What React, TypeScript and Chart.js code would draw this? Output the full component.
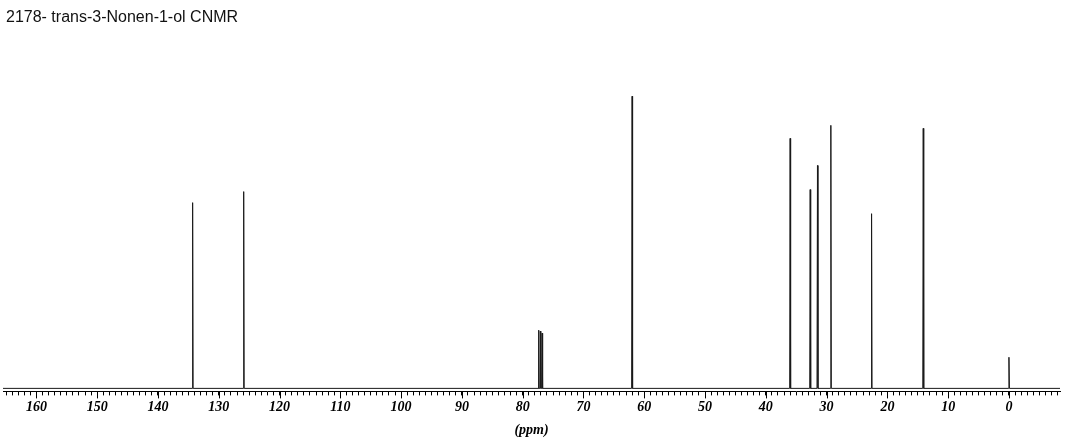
import React, { useEffect, useRef } from "react";
import { Chart, registerables } from "chart.js";

Chart.register(...registerables);

const TITLE = "2178- trans-3-Nonen-1-ol CNMR";
const AXIS_TITLE = "(ppm)";
const X_MIN = -8.4;
const X_MAX = 165.5;
// peak positions (ppm) and heights (relative intensity)
const peakPpm = [134.3, 125.9, 77.4, 77.1, 76.8, 62.0, 36.0, 32.7, 31.5, 29.3, 22.6, 14.1, 0.0];
const peakHeight = [185, 196, 58, 57, 55, 291, 249, 198, 222, 262, 174, 259, 31];
const majorTicks = [160, 150, 140, 130, 120, 110, 100, 90, 80, 70, 60, 50, 40, 30, 20, 10, 0];

function buildPoints() {
  const pts: { x: number; y: number }[] = [{ x: X_MAX, y: 0 }];
  const order = peakPpm.map((p, i) => i).sort((a, b) => peakPpm[b] - peakPpm[a]);
  for (const i of order) {
    pts.push({ x: peakPpm[i] + 0.08, y: 0 });
    pts.push({ x: peakPpm[i], y: peakHeight[i] });
    pts.push({ x: peakPpm[i] - 0.08, y: 0 });
  }
  pts.push({ x: X_MIN, y: 0 });
  return pts;
}

const titlePlugin = {
  id: "topTitle",
  afterDraw(chart: any) {
    const ctx = chart.ctx;
    ctx.save();
    ctx.fillStyle = "#111";
    ctx.font = "16px 'Liberation Sans', Arial, sans-serif";
    ctx.textBaseline = "alphabetic";
    ctx.textAlign = "left";
    ctx.fillText(TITLE, 6, 22);
    ctx.restore();
  },
};

const majorTickPlugin = {
  id: "majorTicks",
  afterDraw(chart: any) {
    const xs = chart.scales.x;
    const ctx = chart.ctx;
    const bottom = chart.chartArea.bottom;
    ctx.save();
    ctx.strokeStyle = "#000";
    ctx.lineWidth = 1;
    for (const v of majorTicks) {
      const px = Math.round(xs.getPixelForValue(v)) + 0.5;
      ctx.beginPath();
      ctx.moveTo(px, bottom);
      ctx.lineTo(px, bottom + 7);
      ctx.stroke();
    }
    ctx.restore();
  },
};

export default function App() {
  const ref = useRef<HTMLCanvasElement>(null);
  useEffect(() => {
    if (!ref.current) return;
    const chart = new Chart(ref.current, {
      type: "line",
      data: {
        datasets: [
          {
            data: buildPoints(),
            borderColor: "#1a1a1a",
            borderWidth: 1,
            pointRadius: 0,
            tension: 0,
            fill: false,
          },
        ],
      },
      options: {
        animation: false,
        responsive: false,
        layout: { padding: { left: 3, right: 6, top: 42, bottom: 0 } },
        plugins: {
          legend: { display: false },
          tooltip: { enabled: false },
          title: { display: false },
        },
        scales: {
          x: {
            type: "linear",
            reverse: true,
            min: X_MIN,
            max: X_MAX,
            grid: { drawOnChartArea: false, drawTicks: true, tickLength: 4, color: "#000" },
            border: { display: true, color: "#000" },
            ticks: {
              stepSize: 1,
              autoSkip: false,
              includeBounds: false,
              maxRotation: 0,
              padding: 4,
              color: "#000",
              font: { family: "'Liberation Serif', 'Times New Roman', serif", size: 14, weight: "bold", style: "italic" },
              callback: (v: any) => (Math.round(v) % 10 === 0 ? String(Math.round(v)) : ""),
            },
            title: {
              display: true,
              text: AXIS_TITLE,
              color: "#000",
              padding: { top: 2, bottom: 0 },
              font: { family: "'Liberation Serif', 'Times New Roman', serif", size: 14, weight: "bold", style: "italic" },
            },
          },
          y: {
            display: false,
            min: -3,
            max: 345,
          },
        },
      },
      plugins: [majorTickPlugin, titlePlugin],
    });
    return () => chart.destroy();
  }, []);
  return (
    <div style={{ position: "fixed", left: 0, top: 0, width: 1066, height: 439, background: "#fff" }}>
      <canvas ref={ref} width={1066} height={439} />
    </div>
  );
}
